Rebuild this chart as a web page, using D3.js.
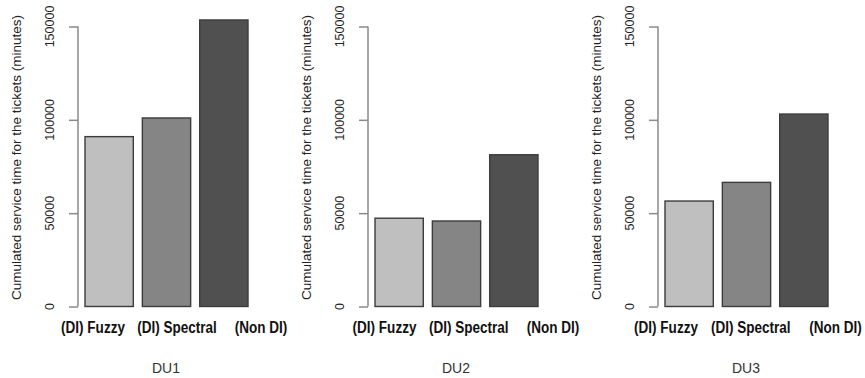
<!DOCTYPE html>
<html>
<head>
<meta charset="utf-8">
<script src="https://cdn.jsdelivr.net/npm/d3@7"></script>
<style>
  html, body { margin: 0; padding: 0; background: #fff; }
  svg { display: block; }
</style>
</head>
<body>
<svg id="chart" width="865" height="378"></svg>
<script>
// Cumulated service time per method, one panel per DU
const categories = ["(DI) Fuzzy", "(DI) Spectral", "(Non DI)"];
const panels = ["DU1", "DU2", "DU3"];
const du1Values = [91000, 101000, 153500];
const du2Values = [47300, 45800, 81300];
const du3Values = [56500, 66500, 103100];
const yTicks = [0, 50000, 100000, 150000];
const yTitle = "Cumulated service time for the tickets (minutes)";

const seriesByPanel = [du1Values, du2Values, du3Values];
const fills = ["#bfbfbf", "#858585", "#505050"];

// layout of each panel (horizontal offset and category label span)
const panelOffset = [0, 290, 580];
const labelSpan = [[93, 261], [94.5, 263], [86, 255.5]];

const svg = d3.select("#chart");

const y = d3.scaleLinear().domain([0, 150000]).range([306.5, 26.5]);
const x = d3.scaleBand().domain(categories).range([85, 248])
  .paddingInner(0.158).paddingOuter(0);
const color = d3.scaleOrdinal().domain(categories).range(fills);

panels.forEach((name, i) => {
  const g = svg.append("g").attr("transform", `translate(${panelOffset[i]},0)`);
  const values = seriesByPanel[i];
  const rows = categories.map((c, k) => ({ c, v: values[k] }));

  // bars
  g.selectAll("rect.bar").data(rows).join("rect")
    .attr("class", "bar")
    .attr("x", d => x(d.c))
    .attr("width", x.bandwidth())
    .attr("y", d => y(d.v))
    .attr("height", d => y(0) - y(d.v))
    .attr("fill", d => color(d.c))
    .attr("stroke", "#3c3c3c")
    .attr("stroke-width", 1.4);

  // y axis
  const axis = d3.axisLeft(y).tickValues(yTicks).tickSize(9).tickFormat("");
  const ag = g.append("g").attr("transform", "translate(78,0)").call(axis);
  ag.select(".domain").attr("d", `M-0,${y(150000)}V${y(0)}`)
    .attr("stroke", "#8a8a8a").attr("stroke-width", 1.5);
  ag.selectAll(".tick line").attr("stroke", "#8a8a8a").attr("stroke-width", 1.5);

  // rotated tick labels
  g.selectAll("text.ytl").data(yTicks).join("text")
    .attr("class", "ytl")
    .attr("transform", d => `translate(54,${y(d)}) rotate(-90)`)
    .attr("text-anchor", "middle")
    .attr("font-family", "Liberation Sans, Arial, sans-serif")
    .attr("font-size", 12.5)
    .attr("fill", "#222")
    .text(d => d3.format("d")(d));

  // y title
  g.append("text")
    .attr("transform", `translate(21,157.5) rotate(-90)`)
    .attr("text-anchor", "middle")
    .attr("font-family", "Liberation Sans, Arial, sans-serif")
    .attr("font-size", 13.5)
    .attr("fill", "#222")
    .text(yTitle);

  // category labels (bold, horizontally condensed)
  const lx = d3.scalePoint().domain(categories).range(labelSpan[i]);
  g.selectAll("text.cat").data(categories).join("text")
    .attr("class", "cat")
    .attr("transform", d => `translate(${lx(d)},332.5) scale(0.82,1)`)
    .attr("text-anchor", "middle")
    .attr("font-family", "Liberation Sans, Arial, sans-serif")
    .attr("font-weight", "bold")
    .attr("font-size", 16.5)
    .attr("fill", "#111")
    .text(d => d);

  // panel label
  g.append("text")
    .attr("x", 166)
    .attr("y", 373)
    .attr("text-anchor", "middle")
    .attr("font-family", "Liberation Sans, Arial, sans-serif")
    .attr("font-size", 14)
    .attr("fill", "#333")
    .text(name);
});
</script>
</body>
</html>
